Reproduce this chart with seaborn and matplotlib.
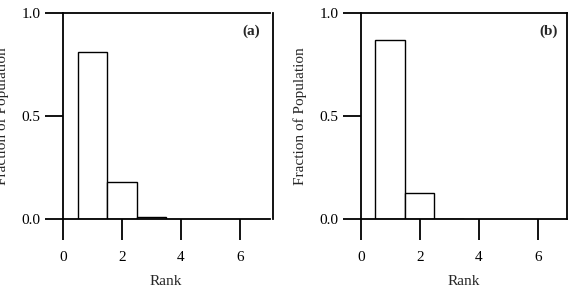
import matplotlib
matplotlib.use("Agg")
import matplotlib.pyplot as plt
import seaborn as sns
import pandas as pd

ranks = [1, 2, 3]
frac_a = [0.81, 0.18, 0.008]
frac_b = [0.867, 0.128, 0.0]
panel_labels = ["(a)", "(b)"]
x_ticks = [0, 2, 4, 6]
y_ticks = [0.0, 0.5, 1.0]
y_tick_labels = ["0.0", "0.5", "1.0"]

sns.set_style("white")
plt.rcParams['font.family'] = ['Liberation Serif', 'DejaVu Serif']

fig = plt.figure(figsize=(5.70, 2.92), dpi=100)
W, H = 570.0, 292.0
axes_px = [(63, 206.5), (360.7, 206.5)]
right_offsets = [2.2, 0.0]
bottom = (H - 219) / H
height = (219 - 13) / H

for (left_px, w_px), frac, lab, roff in zip(axes_px, [frac_a, frac_b], panel_labels, right_offsets):
    ax = fig.add_axes([left_px / W, bottom, w_px / W, height])
    df = pd.DataFrame({"rank": ranks, "frac": frac})
    sns.barplot(data=df, x="rank", y="frac", native_scale=True, width=1.0,
                color="white", edgecolor="black", linewidth=1.0,
                errorbar=None, ax=ax)
    for p in ax.patches:
        p.set_facecolor("white")
    ax.set_xlim(0, 7)
    ax.set_ylim(0, 1)
    ax.set_xticks(x_ticks)
    ax.set_xticklabels([str(t) for t in x_ticks])
    ax.set_yticks(y_ticks)
    ax.set_yticklabels(y_tick_labels)
    for s in ax.spines.values():
        s.set_visible(True)
        s.set_color("black")
        s.set_linewidth(1.3)
    if roff:
        ax.spines["right"].set_position(("outward", roff))
    ax.tick_params(axis="x", direction="out", length=15, width=1.3, pad=8,
                   labelsize=11, colors="black", bottom=True, top=False)
    ax.tick_params(axis="y", direction="out", length=13, width=1.3, pad=3,
                   labelsize=11, colors="black", left=True, right=False)
    ax.set_xlabel("Rank", fontsize=11)
    ax.xaxis.set_label_coords(0.5, -0.27)
    ax.set_ylabel("Fraction of Population", fontsize=11)
    ax.yaxis.set_label_coords(-0.262, 0.5)
    ax.text(0.91, 0.91, lab, transform=ax.transAxes, ha="center", va="center",
            fontsize=11, fontweight="bold")
    ax.set_facecolor("white")

fig.savefig("out.png", dpi=100, facecolor="white")
